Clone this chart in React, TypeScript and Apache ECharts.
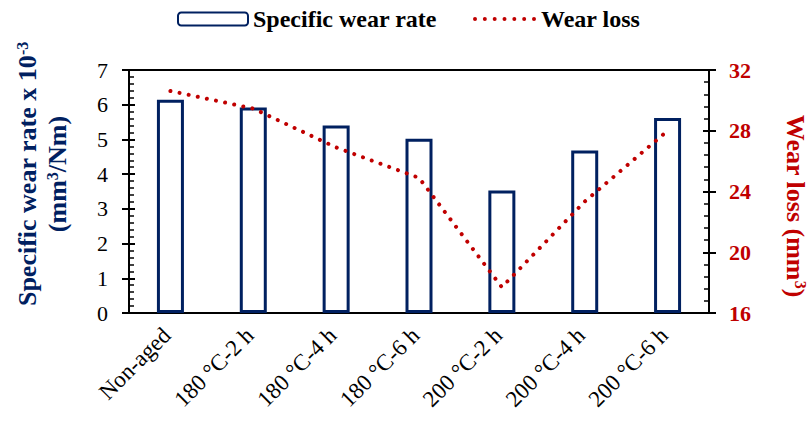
import React, { useEffect, useRef } from "react";
import * as echarts from "echarts";

// Aging conditions along the x axis
const categories = [
  "Non-aged",
  "180 °C-2 h",
  "180 °C-4 h",
  "180 °C-6 h",
  "200 °C-2 h",
  "200 °C-4 h",
  "200 °C-6 h",
];

// Specific wear rate (x 10^-3 mm³/Nm), left axis
const wearRate = [6.14, 5.92, 5.4, 5.02, 3.53, 4.68, 5.62];

// Wear loss (mm³), right axis
const wearLoss = [30.62, 29.46, 26.9, 24.9, 17.7, 23.34, 28.0];

const NAVY = "#002060";
const RED = "#C00000";
const FONT = "'Liberation Serif', 'Times New Roman', serif";

// Row of round dots used as the legend swatch for the dotted wear-loss line
function dottedSwatch(count: number, width: number, r: number): string {
  const step = (width - 2 * r) / (count - 1);
  let d = "";
  for (let i = 0; i < count; i++) {
    const cx = r + i * step;
    d += `M${(cx - r).toFixed(2)},${r}a${r},${r} 0 1,0 ${2 * r},0a${r},${r} 0 1,0 ${-2 * r},0Z`;
  }
  return "path://" + d;
}

export default function App() {
  const ref = useRef<HTMLDivElement>(null);

  useEffect(() => {
    if (!ref.current) return;
    const chart = echarts.init(ref.current, null, { renderer: "svg" });

    const baseTick = { lineStyle: { color: "#000", width: 2 } };
    const legendText = { fontFamily: FONT, fontSize: 24, fontWeight: "bold", color: "#000" };

    chart.setOption({
      animation: false,
      textStyle: { fontFamily: FONT },
      grid: {
        left: 129,
        right: 100,
        top: 70,
        bottom: 108,
        show: true,
        borderColor: "#000",
        borderWidth: 2,
        backgroundColor: "transparent",
      },
      legend: [
        {
          data: ["Specific wear rate"],
          left: 177,
          top: 7,
          padding: 0,
          itemWidth: 70,
          itemHeight: 13,
          textStyle: legendText,
        },
        {
          data: [
            {
              name: "Wear loss",
              icon: dottedSwatch(7, 63, 2),
              itemStyle: { color: RED, borderWidth: 0 },
            },
          ],
          left: 473,
          top: 7,
          padding: 0,
          itemWidth: 63,
          itemHeight: 13,
          symbolKeepAspect: true,
          textStyle: legendText,
        },
      ],
      xAxis: {
        type: "category",
        data: categories,
        axisLine: { lineStyle: { color: "#000", width: 2 } },
        axisTick: { show: false },
        axisLabel: {
          rotate: 45,
          margin: 15,
          padding: [0, 5, 0, 0],
          fontSize: 23,
          color: "#000",
          fontFamily: FONT,
          interval: 0,
        },
      },
      yAxis: [
        {
          type: "value",
          position: "left",
          min: 0,
          max: 7,
          interval: 1,
          splitLine: { show: false },
          axisLine: { show: true, lineStyle: { color: "#000", width: 2 } },
          axisTick: { show: true, inside: false, length: 7, ...baseTick },
          axisLabel: { margin: 21, fontSize: 22, color: "#000", fontFamily: FONT },
        },
        {
          type: "value",
          position: "left",
          min: 0,
          max: 7,
          interval: 1,
          splitLine: { show: false },
          axisLine: { show: false },
          axisLabel: { show: false },
          axisTick: { show: true, inside: true, length: 6, ...baseTick },
          minorTick: { show: true, splitNumber: 5, length: 5, lineStyle: { color: "#000", width: 1.5 } },
        },
        {
          type: "value",
          position: "right",
          min: 16,
          max: 32,
          interval: 4,
          splitLine: { show: false },
          axisLine: { show: true, lineStyle: { color: "#000", width: 2 } },
          axisTick: { show: true, inside: false, length: 7, ...baseTick },
          axisLabel: {
            margin: 20,
            fontSize: 22,
            fontWeight: "bold",
            color: RED,
            fontFamily: FONT,
          },
        },
        {
          type: "value",
          position: "right",
          min: 16,
          max: 32,
          interval: 4,
          splitLine: { show: false },
          axisLine: { show: false },
          axisLabel: { show: false },
          axisTick: { show: true, inside: true, length: 6, ...baseTick },
          minorTick: { show: true, splitNumber: 5, length: 5, lineStyle: { color: "#000", width: 1.5 } },
        },
      ],
      series: [
        {
          name: "Specific wear rate",
          type: "bar",
          yAxisIndex: 0,
          data: wearRate,
          barWidth: 27,
          itemStyle: { color: "#fff", borderColor: NAVY, borderWidth: 3 },
        },
        {
          name: "Wear loss",
          type: "line",
          yAxisIndex: 2,
          data: wearLoss,
          symbol: "none",
          showSymbol: false,
          z: 5,
          lineStyle: { color: RED, width: 4, type: [0.01, 9.3], cap: "round" },
          itemStyle: { color: RED },
        },
      ],
      graphic: [
        {
          type: "text",
          x: 27,
          y: 174,
          rotation: Math.PI / 2,
          style: {
            text: "{m|Specific wear rate x 10}{s|-3}",
            align: "center",
            verticalAlign: "middle",
            rich: {
              m: { fontFamily: FONT, fontSize: 26, fontWeight: "bold", fill: NAVY, color: NAVY },
              s: { fontFamily: FONT, fontSize: 16, fontWeight: "bold", fill: NAVY, color: NAVY, verticalAlign: "top" },
            },
          },
        },
        {
          type: "text",
          x: 57,
          y: 174,
          rotation: Math.PI / 2,
          style: {
            text: "{m|(mm}{s|3}{m|/Nm)}",
            align: "center",
            verticalAlign: "middle",
            rich: {
              m: { fontFamily: FONT, fontSize: 26, fontWeight: "bold", fill: NAVY, color: NAVY },
              s: { fontFamily: FONT, fontSize: 16, fontWeight: "bold", fill: NAVY, color: NAVY, verticalAlign: "top" },
            },
          },
        },
        {
          type: "text",
          x: 795,
          y: 206,
          rotation: -Math.PI / 2,
          style: {
            text: "{m|Wear loss (mm}{s|3}{m|)}",
            align: "center",
            verticalAlign: "middle",
            rich: {
              m: { fontFamily: FONT, fontSize: 26, fontWeight: "bold", fill: RED, color: RED },
              s: { fontFamily: FONT, fontSize: 16, fontWeight: "bold", fill: RED, color: RED, verticalAlign: "top" },
            },
          },
        },
      ],
    });

    return () => chart.dispose();
  }, []);

  return (
    <div
      ref={ref}
      style={{ position: "fixed", left: 0, top: 0, width: 809, height: 421, background: "#fff" }}
    />
  );
}
